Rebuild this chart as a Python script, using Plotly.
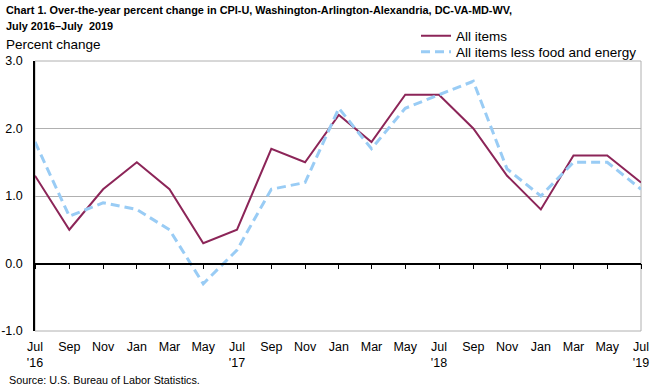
import plotly.graph_objects as go

months = ["2016-07-01", "2016-09-01", "2016-11-01", "2017-01-01", "2017-03-01", "2017-05-01",
          "2017-07-01", "2017-09-01", "2017-11-01", "2018-01-01", "2018-03-01", "2018-05-01",
          "2018-07-01", "2018-09-01", "2018-11-01", "2019-01-01", "2019-03-01", "2019-05-01",
          "2019-07-01"]
all_items = [1.3, 0.5, 1.1, 1.5, 1.1, 0.3, 0.5, 1.7, 1.5, 2.2, 1.8, 2.5, 2.5, 2.0, 1.3, 0.8, 1.6, 1.6, 1.2]
core = [1.8, 0.7, 0.9, 0.8, 0.5, -0.3, 0.2, 1.1, 1.2, 2.3, 1.7, 2.3, 2.5, 2.7, 1.4, 1.0, 1.5, 1.5, 1.1]
tick_labels = ["Jul<br>'16", "Sep", "Nov", "Jan", "Mar", "May", "Jul<br>'17", "Sep", "Nov", "Jan",
               "Mar", "May", "Jul<br>'18", "Sep", "Nov", "Jan", "Mar", "May", "Jul<br>'19"]
y_ticks = [-1, 0, 1, 2, 3]
y_labels = ["-1.0", "0.0", "1.0", "2.0", "3.0"]
title_lines = ["Chart 1. Over-the-year percent change in CPI-U, Washington-Arlington-Alexandria, DC-VA-MD-WV,",
               "July 2016–July  2019"]

FONT = "Liberation Sans, Arial, sans-serif"

fig = go.Figure()
fig.add_trace(go.Scatter(x=months, y=all_items, mode="lines", name="All items",
                         line=dict(color="#8c2558", width=2), legend="legend"))
fig.add_trace(go.Scatter(x=months, y=core, mode="lines", name="All items less food and energy",
                         line=dict(color="#99ccf5", width=3, dash="9px,5px"), legend="legend2"))

leg_common = dict(xref="container", yref="container", x=0.64, xanchor="left", yanchor="middle",
                  bgcolor="rgba(0,0,0,0)", font=dict(size=13.5, family=FONT))

fig.update_layout(
    width=650, height=386,
    margin=dict(l=35, r=9, t=61, b=55, autoexpand=False),
    paper_bgcolor="white", plot_bgcolor="white",
    font=dict(family=FONT, size=12, color="black"),
    showlegend=True,
    legend=dict(y=1 - 36 / 386, **leg_common),
    legend2=dict(y=1 - 52 / 386, **leg_common),
    xaxis=dict(range=[months[0], months[-1]], tickvals=months, ticktext=tick_labels,
               showgrid=False, zeroline=False, showline=False, ticks="", tickangle=0,
               automargin=False, ticklabelstandoff=6, tickfont=dict(size=12.5)),
    xaxis2=dict(range=[months[0], months[-1]], overlaying="x", anchor="free", position=0.25,
                tickvals=months, showticklabels=False, showgrid=False, zeroline=False,
                showline=True, linecolor="black", linewidth=1.5, ticks="outside", ticklen=5,
                tickcolor="black", tickwidth=1),
    yaxis=dict(range=[-1, 3], tickvals=y_ticks, ticktext=y_labels, showgrid=True,
               gridcolor="#b0b0b0", gridwidth=1, zeroline=False, showline=True,
               linecolor="black", linewidth=1.5, ticks="", automargin=False,
               ticklabelstandoff=8, tickfont=dict(size=12.5)),
)
fig.add_shape(type="rect", xref="paper", yref="paper", x0=0, x1=1, y0=0, y1=1,
              line=dict(color="#b0b0b0", width=1), layer="below")
fig.add_trace(go.Scatter(x=[months[0]], y=[0], xaxis="x2", mode="markers",
                         marker=dict(opacity=0), showlegend=False, hoverinfo="skip"))

for line_text, yc in zip(title_lines, [10, 26]):
    fig.add_annotation(text="<b>" + line_text + "</b>", xref="paper", yref="paper",
                       x=-31/606, y=(331 - yc) / 270, xanchor="left", yanchor="middle",
                       showarrow=False, font=dict(size=10.9))
fig.add_annotation(text="Percent change", xref="paper", yref="paper", x=-31/606, y=(331 - 45) / 270,
                   xanchor="left", yanchor="middle", showarrow=False, font=dict(size=13.5))
fig.add_annotation(text="Source: U.S. Bureau of Labor Statistics.", xref="paper", yref="paper",
                   x=-28/606, y=(331 - 380) / 270, xanchor="left", yanchor="middle", showarrow=False,
                   font=dict(size=10.8))

fig.write_html("out.html", config={"displayModeBar": False},
               post_script="document.body.style.margin='0';document.body.style.padding='0';")
